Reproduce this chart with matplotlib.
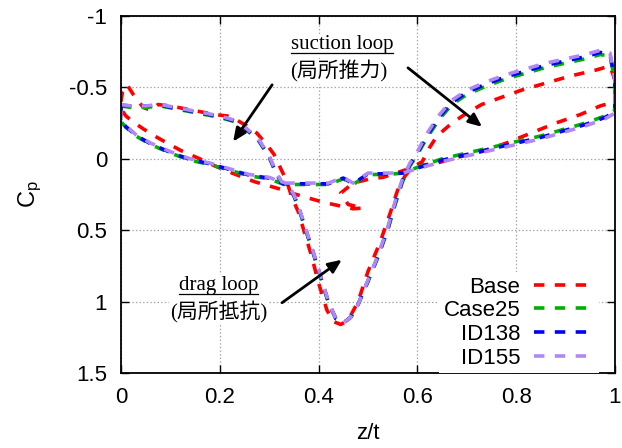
import matplotlib
matplotlib.use("Agg")
import matplotlib.pyplot as plt
from matplotlib.lines import Line2D
from matplotlib.ticker import FuncFormatter

plt.rcParams["font.family"] = ["Liberation Sans", "DejaVu Sans"]
plt.rcParams["mathtext.fontset"] = "custom"
plt.rcParams["mathtext.rm"] = "Liberation Sans"
plt.rcParams["mathtext.it"] = "Liberation Sans:italic"
plt.rcParams["lines.scale_dashes"] = False

# ---- pressure-coefficient loops (z/t, Cp), traced around the section ----
labels = ["Base", "Case25", "ID138", "ID155"]
colors = ["#ff0000", "#00b000", "#0000ff", "#b088f5"]

z_base = [0.000, 0.003, 0.012, 0.025, 0.045, 0.060, 0.075, 0.100, 0.130, 0.160,
          0.190, 0.215, 0.235, 0.255, 0.275, 0.295, 0.310, 0.325, 0.335, 0.345,
          0.360, 0.370, 0.385, 0.400, 0.417, 0.430, 0.445, 0.460, 0.480, 0.500,
          0.525, 0.545, 0.560, 0.575, 0.590, 0.610, 0.625, 0.640, 0.670, 0.700,
          0.730, 0.770, 0.810, 0.860, 0.910, 0.960, 0.990, 1.000, 1.000, 0.970,
          0.930, 0.880, 0.830, 0.780, 0.730, 0.680, 0.640, 0.600, 0.565, 0.530,
          0.505, 0.470, 0.445, 0.460, 0.490, 0.470, 0.430, 0.400, 0.375, 0.350,
          0.330, 0.300, 0.270, 0.225, 0.190, 0.166, 0.120, 0.073, 0.045, 0.024,
          0.010, 0.000, 0.000]
cp_base = [-0.40, -0.47, -0.52, -0.45, -0.36, -0.34, -0.38, -0.37, -0.35, -0.33,
           -0.31, -0.30, -0.27, -0.23, -0.18, -0.10, -0.03, 0.08, 0.15, 0.26,
           0.38, 0.50, 0.67, 0.87, 1.06, 1.14, 1.16, 1.13, 1.00, 0.79,
           0.58, 0.38, 0.22, 0.12, 0.06, 0.02, -0.08, -0.16, -0.25, -0.32,
           -0.38, -0.43, -0.48, -0.53, -0.58, -0.62, -0.65, -0.55, -0.40, -0.37,
           -0.31, -0.25, -0.18, -0.11, -0.05, -0.01, 0.03, 0.05, 0.09, 0.13,
           0.14, 0.17, 0.24, 0.32, 0.345, 0.35, 0.32, 0.295, 0.27, 0.245,
           0.22, 0.19, 0.16, 0.10, 0.05, 0.01, -0.06, -0.15, -0.21, -0.26,
           -0.30, -0.35, -0.40]

z_mod = [0.000, 0.020, 0.050, 0.080, 0.110, 0.140, 0.170, 0.200, 0.230, 0.255,
         0.280, 0.300, 0.315, 0.325, 0.335, 0.350, 0.360, 0.375, 0.390, 0.405,
         0.420, 0.435, 0.450, 0.465, 0.480, 0.500, 0.520, 0.540, 0.555, 0.570,
         0.585, 0.600, 0.620, 0.645, 0.670, 0.700, 0.740, 0.780, 0.820, 0.860,
         0.900, 0.940, 0.970, 0.990, 1.000, 1.000, 0.980, 0.940, 0.900, 0.850,
         0.800, 0.750, 0.700, 0.650, 0.600, 0.570, 0.540, 0.500, 0.470, 0.450,
         0.420, 0.390, 0.360, 0.330, 0.300, 0.260, 0.220, 0.180, 0.140, 0.100,
         0.060, 0.030, 0.010, 0.000, 0.000]
cp_case25 = [-0.37, -0.36, -0.36, -0.37, -0.35, -0.33, -0.31, -0.29, -0.26, -0.20,
             -0.12, -0.01, 0.11, 0.17, 0.18, 0.26, 0.35, 0.51, 0.67, 0.84,
             1.01, 1.12, 1.15, 1.11, 1.02, 0.86, 0.69, 0.50, 0.32, 0.16,
             0.05, -0.03, -0.15, -0.28, -0.38, -0.45, -0.51, -0.56, -0.60, -0.64,
             -0.67, -0.70, -0.73, -0.72, -0.55, -0.34, -0.30, -0.25, -0.21, -0.16,
             -0.12, -0.08, -0.04, 0.00, 0.06, 0.10, 0.11, 0.11, 0.18, 0.14,
             0.18, 0.18, 0.18, 0.18, 0.14, 0.12, 0.08, 0.04, 0.01, -0.04,
             -0.10, -0.16, -0.22, -0.26, -0.37]
cp_id138 = [-0.375, -0.37, -0.37, -0.375, -0.355, -0.335, -0.315, -0.295, -0.265, -0.205,
            -0.125, -0.015, 0.105, 0.165, 0.175, 0.255, 0.345, 0.505, 0.665, 0.835,
            1.005, 1.12, 1.15, 1.11, 1.02, 0.855, 0.685, 0.49, 0.31, 0.15,
            0.04, -0.04, -0.165, -0.295, -0.395, -0.465, -0.525, -0.575, -0.615, -0.655,
            -0.685, -0.715, -0.745, -0.73, -0.55, -0.33, -0.29, -0.24, -0.20, -0.15,
            -0.11, -0.07, -0.03, 0.01, 0.065, 0.10, 0.105, 0.105, 0.175, 0.135,
            0.175, 0.175, 0.175, 0.175, 0.135, 0.115, 0.075, 0.035, 0.005, -0.045,
            -0.105, -0.165, -0.225, -0.265, -0.375]
cp_id155 = [-0.38, -0.37, -0.37, -0.38, -0.36, -0.34, -0.32, -0.30, -0.27, -0.21,
            -0.13, -0.02, 0.10, 0.16, 0.17, 0.25, 0.34, 0.50, 0.66, 0.83,
            1.00, 1.12, 1.15, 1.11, 1.02, 0.85, 0.68, 0.48, 0.30, 0.14,
            0.03, -0.05, -0.18, -0.31, -0.41, -0.48, -0.54, -0.59, -0.63, -0.67,
            -0.70, -0.73, -0.76, -0.74, -0.55, -0.32, -0.28, -0.23, -0.19, -0.14,
            -0.10, -0.06, -0.02, 0.02, 0.07, 0.10, 0.10, 0.10, 0.17, 0.13,
            0.17, 0.17, 0.17, 0.17, 0.13, 0.11, 0.07, 0.03, 0.00, -0.05,
            -0.11, -0.17, -0.23, -0.27, -0.38]

series = [(z_base, cp_base), (z_mod, cp_case25), (z_mod, cp_id138), (z_mod, cp_id155)]

x_ticks = [0, 0.2, 0.4, 0.6, 0.8, 1]
y_ticks = [-1, -0.5, 0, 0.5, 1, 1.5]

fig = plt.figure(figsize=(6.22, 4.48), dpi=100)
ax = fig.add_axes([0.1945, 0.1674, 0.7942, 0.7969])

for (zz, cc), lab, col in zip(series, labels, colors):
    ax.plot(zz, cc, color=col, lw=2.6, dashes=(7.5, 7.5), label=lab,
            solid_capstyle="butt", dash_capstyle="butt")

ax.set_xlim(0, 1)
ax.set_ylim(1.5, -1)
ax.set_xticks(x_ticks)
ax.set_yticks(y_ticks)
fmt = FuncFormatter(lambda v, p: "%g" % v)
ax.xaxis.set_major_formatter(fmt)
ax.yaxis.set_major_formatter(fmt)
ax.tick_params(direction="in", top=True, right=True, length=6, width=1.0,
               labelsize=16, color="black")
ax.tick_params(axis="x", pad=10)
ax.tick_params(axis="y", pad=10)
for s in ax.spines.values():
    s.set_linewidth(1.3)
ax.set_axisbelow(True)
ax.grid(True, color="#a4a4a4", linestyle=(0, (1.0, 1.6)), linewidth=0.9)

ax.set_xlabel("z/t", fontsize=16, labelpad=11)
ax.set_ylabel(r"C$_\mathrm{p}$", fontsize=17, labelpad=18)

leg = ax.legend(loc="lower right", bbox_to_anchor=(0.968, 0.0), markerfirst=False,
                frameon=True, framealpha=1.0, edgecolor="none", fancybox=False,
                fontsize=16, handlelength=2.75, handletextpad=0.6,
                labelspacing=0.12, borderpad=0.2, borderaxespad=0.0)

# annotations
serif_cjk = ["Liberation Serif", "Noto Sans CJK JP"]
box = dict(facecolor="white", edgecolor="none", pad=1.0)
t_suc = ax.text(0.447, -0.80, "suction loop", family=serif_cjk, fontsize=15,
                ha="center", va="center", bbox=box)
ax.text(0.441, -0.61, "(局所推力)", family=serif_cjk, fontsize=15,
        ha="center", va="center", bbox=box)
t_drag = ax.text(0.198, 0.889, "drag loop", family=serif_cjk, fontsize=15,
                 ha="center", va="center", bbox=box)
ax.text(0.198, 1.078, "(局所抵抗)", family=serif_cjk, fontsize=15,
        ha="center", va="center", bbox=box)

arrow = dict(arrowstyle="-|>,head_length=0.8,head_width=0.35", lw=2.0, color="black",
             shrinkA=0, shrinkB=0)
ax.annotate("", xy=(0.227, -0.12), xytext=(0.306, -0.518), arrowprops=arrow)
ax.annotate("", xy=(0.731, -0.224), xytext=(0.581, -0.637), arrowprops=arrow)
ax.annotate("", xy=(0.447, 0.707), xytext=(0.326, 1.008), arrowprops=arrow)

# underline the loop names
fig.canvas.draw()
rend = fig.canvas.get_renderer()
inv = fig.transFigure.inverted()
for t in (t_suc, t_drag):
    bb = t.get_window_extent(rend)
    (x0, y0), (x1, _) = inv.transform([(bb.x0, bb.y0 + 1.0), (bb.x1, bb.y0 + 1.0)])
    fig.add_artist(Line2D([x0, x1], [y0, y0], transform=fig.transFigure,
                          color="black", lw=0.9))

fig.savefig("out.png", dpi=100)
